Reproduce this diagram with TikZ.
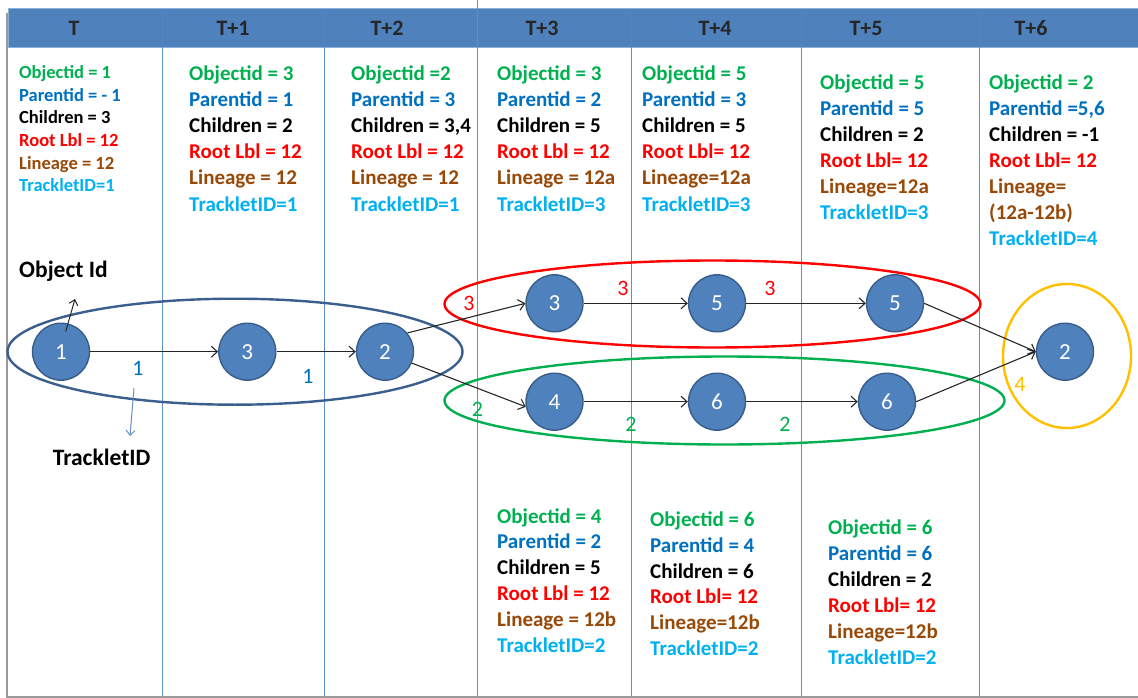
\documentclass[tikz,border=0pt]{standalone}
\usepackage{fontspec}
\setmainfont{Carlito}
\usetikzlibrary{arrows.meta,shapes.geometric}

\definecolor{hdrblue}{HTML}{4F81BD}
\definecolor{hdredge}{HTML}{8DB0DA}
\definecolor{nodeedge}{HTML}{385D8A}
\definecolor{colline}{HTML}{5E8FCE}
\definecolor{oidgreen}{HTML}{00B050}
\definecolor{pidblue}{HTML}{0070C0}
\definecolor{rootred}{HTML}{FF0000}
\definecolor{linbrown}{HTML}{984807}
\definecolor{trkblue}{HTML}{00B0F0}
\definecolor{trkorange}{HTML}{FFC000}
\definecolor{hdrtext}{HTML}{262626}
\definecolor{edgegray}{HTML}{262626}
\definecolor{framegray}{HTML}{9A9A9A}
\definecolor{ptrblue}{HTML}{6A8FC6}
\definecolor{grpblue}{HTML}{3A5E8E}

% one coloured attribute line per entry: colour/text
\newcommand\infoblock[6]{%
  \foreach \clr/\txt [count=\i from 0] in {#6}{%
    \node[#2, text=\clr] (#1-\i) at (#3,{#4+\i*#5}) {\txt};
  }%
}

\begin{document}
\begin{tikzpicture}[x=1pt,y=-1pt,
  objnode/.style={circle, fill=hdrblue, draw=nodeedge, line width=1.4pt,
    minimum size=57pt, inner sep=0pt, text=white, font=\fontsize{23}{26}\selectfont},
  flow/.style={draw=edgegray, line width=1.1pt, -{Straight Barb[length=6pt,width=11pt]}},
  hdr/.style={font=\bfseries\fontsize{22}{26}\selectfont, text=hdrtext, inner sep=0pt},
  tlabel/.style={font=\fontsize{22}{26}\selectfont, inner sep=0pt},
  infobig/.style={anchor=base west, inner sep=0pt, font=\bfseries\fontsize{21}{25}\selectfont},
  infosmall/.style={anchor=base west, inner sep=0pt, font=\bfseries\fontsize{18.5}{22}\selectfont},
  callout/.style={font=\bfseries\fontsize{23.5}{27}\selectfont, text=black, inner sep=0pt},
  colsep/.style={draw=colline, line width=0.9pt},
]
\useasboundingbox (0,0) rectangle (1138,698);

% page frame shadow
\draw[framegray, line width=1.6pt] (7,13) -- (7,697) -- (1138,697);

% header band
\fill[hdrblue] (8,8) rectangle (1138,47);
\draw[hdredge, line width=0.8pt] (1138,8) -- (8,8) -- (8,47) -- (1138,47);

% column separators
\foreach \cx in {162.5,324,631,801,979}{
  \draw[colsep] (\cx,47) -- (\cx,696);
  \draw[colsep, opacity=0.35] (\cx,8) -- (\cx,47);
}
\draw[colsep] (477,0) -- (477,696);

% time step headings
\node[hdr] (h0) at (74,28) {T};
\node[hdr] (h1) at (233,28) {T+1};
\node[hdr] (h2) at (387,28) {T+2};
\node[hdr] (h3) at (542,28) {T+3};
\node[hdr] (h4) at (715,28) {T+4};
\node[hdr] (h5) at (866,28) {T+5};
\node[hdr] (h6) at (1031,28) {T+6};

% attribute blocks, upper row
\infoblock{ia}{infosmall}{19}{78.6}{22.6}{oidgreen/Objectid = 1, pidblue/Parentid = - 1, black/Children = 3, rootred/Root Lbl = 12, linbrown/Lineage = 12, trkblue/TrackletID=1}
\infoblock{ib}{infobig}{189}{81}{26}{oidgreen/Objectid = 3, pidblue/Parentid = 1, black/Children = 2, rootred/Root Lbl = 12, linbrown/Lineage = 12, trkblue/TrackletID=1}
\infoblock{ic}{infobig}{351}{81}{26}{oidgreen/Objectid =2, pidblue/Parentid = 3, black/{Children = 3,4}, rootred/Root Lbl = 12, linbrown/Lineage = 12, trkblue/TrackletID=1}
\infoblock{id}{infobig}{497}{81}{26}{oidgreen/Objectid = 3, pidblue/Parentid = 2, black/Children = 5, rootred/Root Lbl = 12, linbrown/Lineage = 12a, trkblue/TrackletID=3}
\infoblock{ie}{infobig}{642}{81}{26}{oidgreen/Objectid = 5, pidblue/Parentid = 3, black/Children = 5, rootred/Root Lbl= 12, linbrown/Lineage=12a, trkblue/TrackletID=3}
\infoblock{if}{infobig}{820}{89.5}{26}{oidgreen/Objectid = 5, pidblue/Parentid = 5, black/Children = 2, rootred/Root Lbl= 12, linbrown/Lineage=12a, trkblue/TrackletID=3}
\infoblock{ig}{infobig}{989}{89.5}{26}{oidgreen/Objectid = 2, pidblue/{Parentid =5,6}, black/Children = -1, rootred/Root Lbl= 12, linbrown/Lineage=, linbrown/(12a-12b), trkblue/TrackletID=4}

% attribute blocks, lower row
\infoblock{ih}{infobig}{497}{523}{25.8}{oidgreen/Objectid = 4, pidblue/Parentid = 2, black/Children = 5, rootred/Root Lbl = 12, linbrown/Lineage = 12b, trkblue/TrackletID=2}
\infoblock{ii}{infobig}{650}{526.5}{25.8}{oidgreen/Objectid = 6, pidblue/Parentid = 4, black/Children = 6, rootred/Root Lbl= 12, linbrown/Lineage=12b, trkblue/TrackletID=2}
\infoblock{ij}{infobig}{828}{534.5}{26}{oidgreen/Objectid = 6, pidblue/Parentid = 6, black/Children = 2, rootred/Root Lbl= 12, linbrown/Lineage=12b, trkblue/TrackletID=2}

% tracklet groupings
\draw[grpblue, line width=2.4pt] (235,351.7) ellipse [x radius=227.5pt, y radius=53pt];
\draw[rootred, line width=2.4pt] (712.5,304) ellipse [x radius=268pt, y radius=43.5pt];
\draw[oidgreen, line width=2.4pt] (724.5,400.5) ellipse [x radius=280pt, y radius=44pt];
\draw[trkorange, line width=2.4pt] (1067,356) ellipse [x radius=64pt, y radius=72pt];

% objects
\node[objnode] (a1) at (61,351.7) {1};
\node[objnode] (a3) at (247.3,351.7) {3};
\node[objnode] (a2) at (385,351.7) {2};
\node[objnode] (u3) at (554.5,303.3) {3};
\node[objnode] (u5) at (717,303.3) {5};
\node[objnode] (v5) at (895,303.3) {5};
\node[objnode] (d4) at (554.5,401.7) {4};
\node[objnode] (d6) at (717,401.7) {6};
\node[objnode] (w6) at (887,401.7) {6};
\node[objnode] (f2) at (1065,351.7) {2};

% links between consecutive time steps
\draw[flow] (a1) -- (a3);
\draw[flow] (a3) -- (a2);
\draw[flow] (a2.40) -- (u3.west);
\draw[flow] (a2.-23) -- (d4.190);
\draw[flow] (u3) -- (u5);
\draw[flow] (u5) -- (v5);
\draw[flow] (d4) -- (d6);
\draw[flow] (d6) -- (w6);
\draw[flow] (v5.east) -- (f2.west);
\draw[flow] (w6.east) -- (f2.west);

% tracklet numbers
\node[tlabel, text=pidblue] (t1a) at (138,368) {1};
\node[tlabel, text=pidblue] (t1b) at (308,376.5) {1};
\node[tlabel, text=rootred] (t3a) at (469,303) {3};
\node[tlabel, text=rootred] (t3b) at (623,288) {3};
\node[tlabel, text=rootred] (t3c) at (770,288) {3};
\node[tlabel, text=oidgreen] (t2a) at (477.5,409) {2};
\node[tlabel, text=oidgreen] (t2b) at (631,424) {2};
\node[tlabel, text=oidgreen] (t2c) at (785,424) {2};
\node[tlabel, text=trkorange] (t4a) at (1020,384) {4};

% legend callouts
\node[callout] (oidlbl) at (63.5,271.5) {Object Id};
\coordinate (oidfoot) at (65.7,331.5);
\coordinate (oidtip) at (75,299);
\draw[edgegray, line width=1pt, -{Straight Barb[length=5pt,width=9pt]}] (oidfoot) -- (oidtip);

\node[callout] (trklbl) at (101.7,457) {TrackletID};
\coordinate (trkfoot) at (134,388);
\coordinate (trktip) at (130,436);
\draw[ptrblue, line width=1pt, -{Straight Barb[length=5pt,width=9pt]}] (trkfoot) -- (trktip);
\end{tikzpicture}
\end{document}
